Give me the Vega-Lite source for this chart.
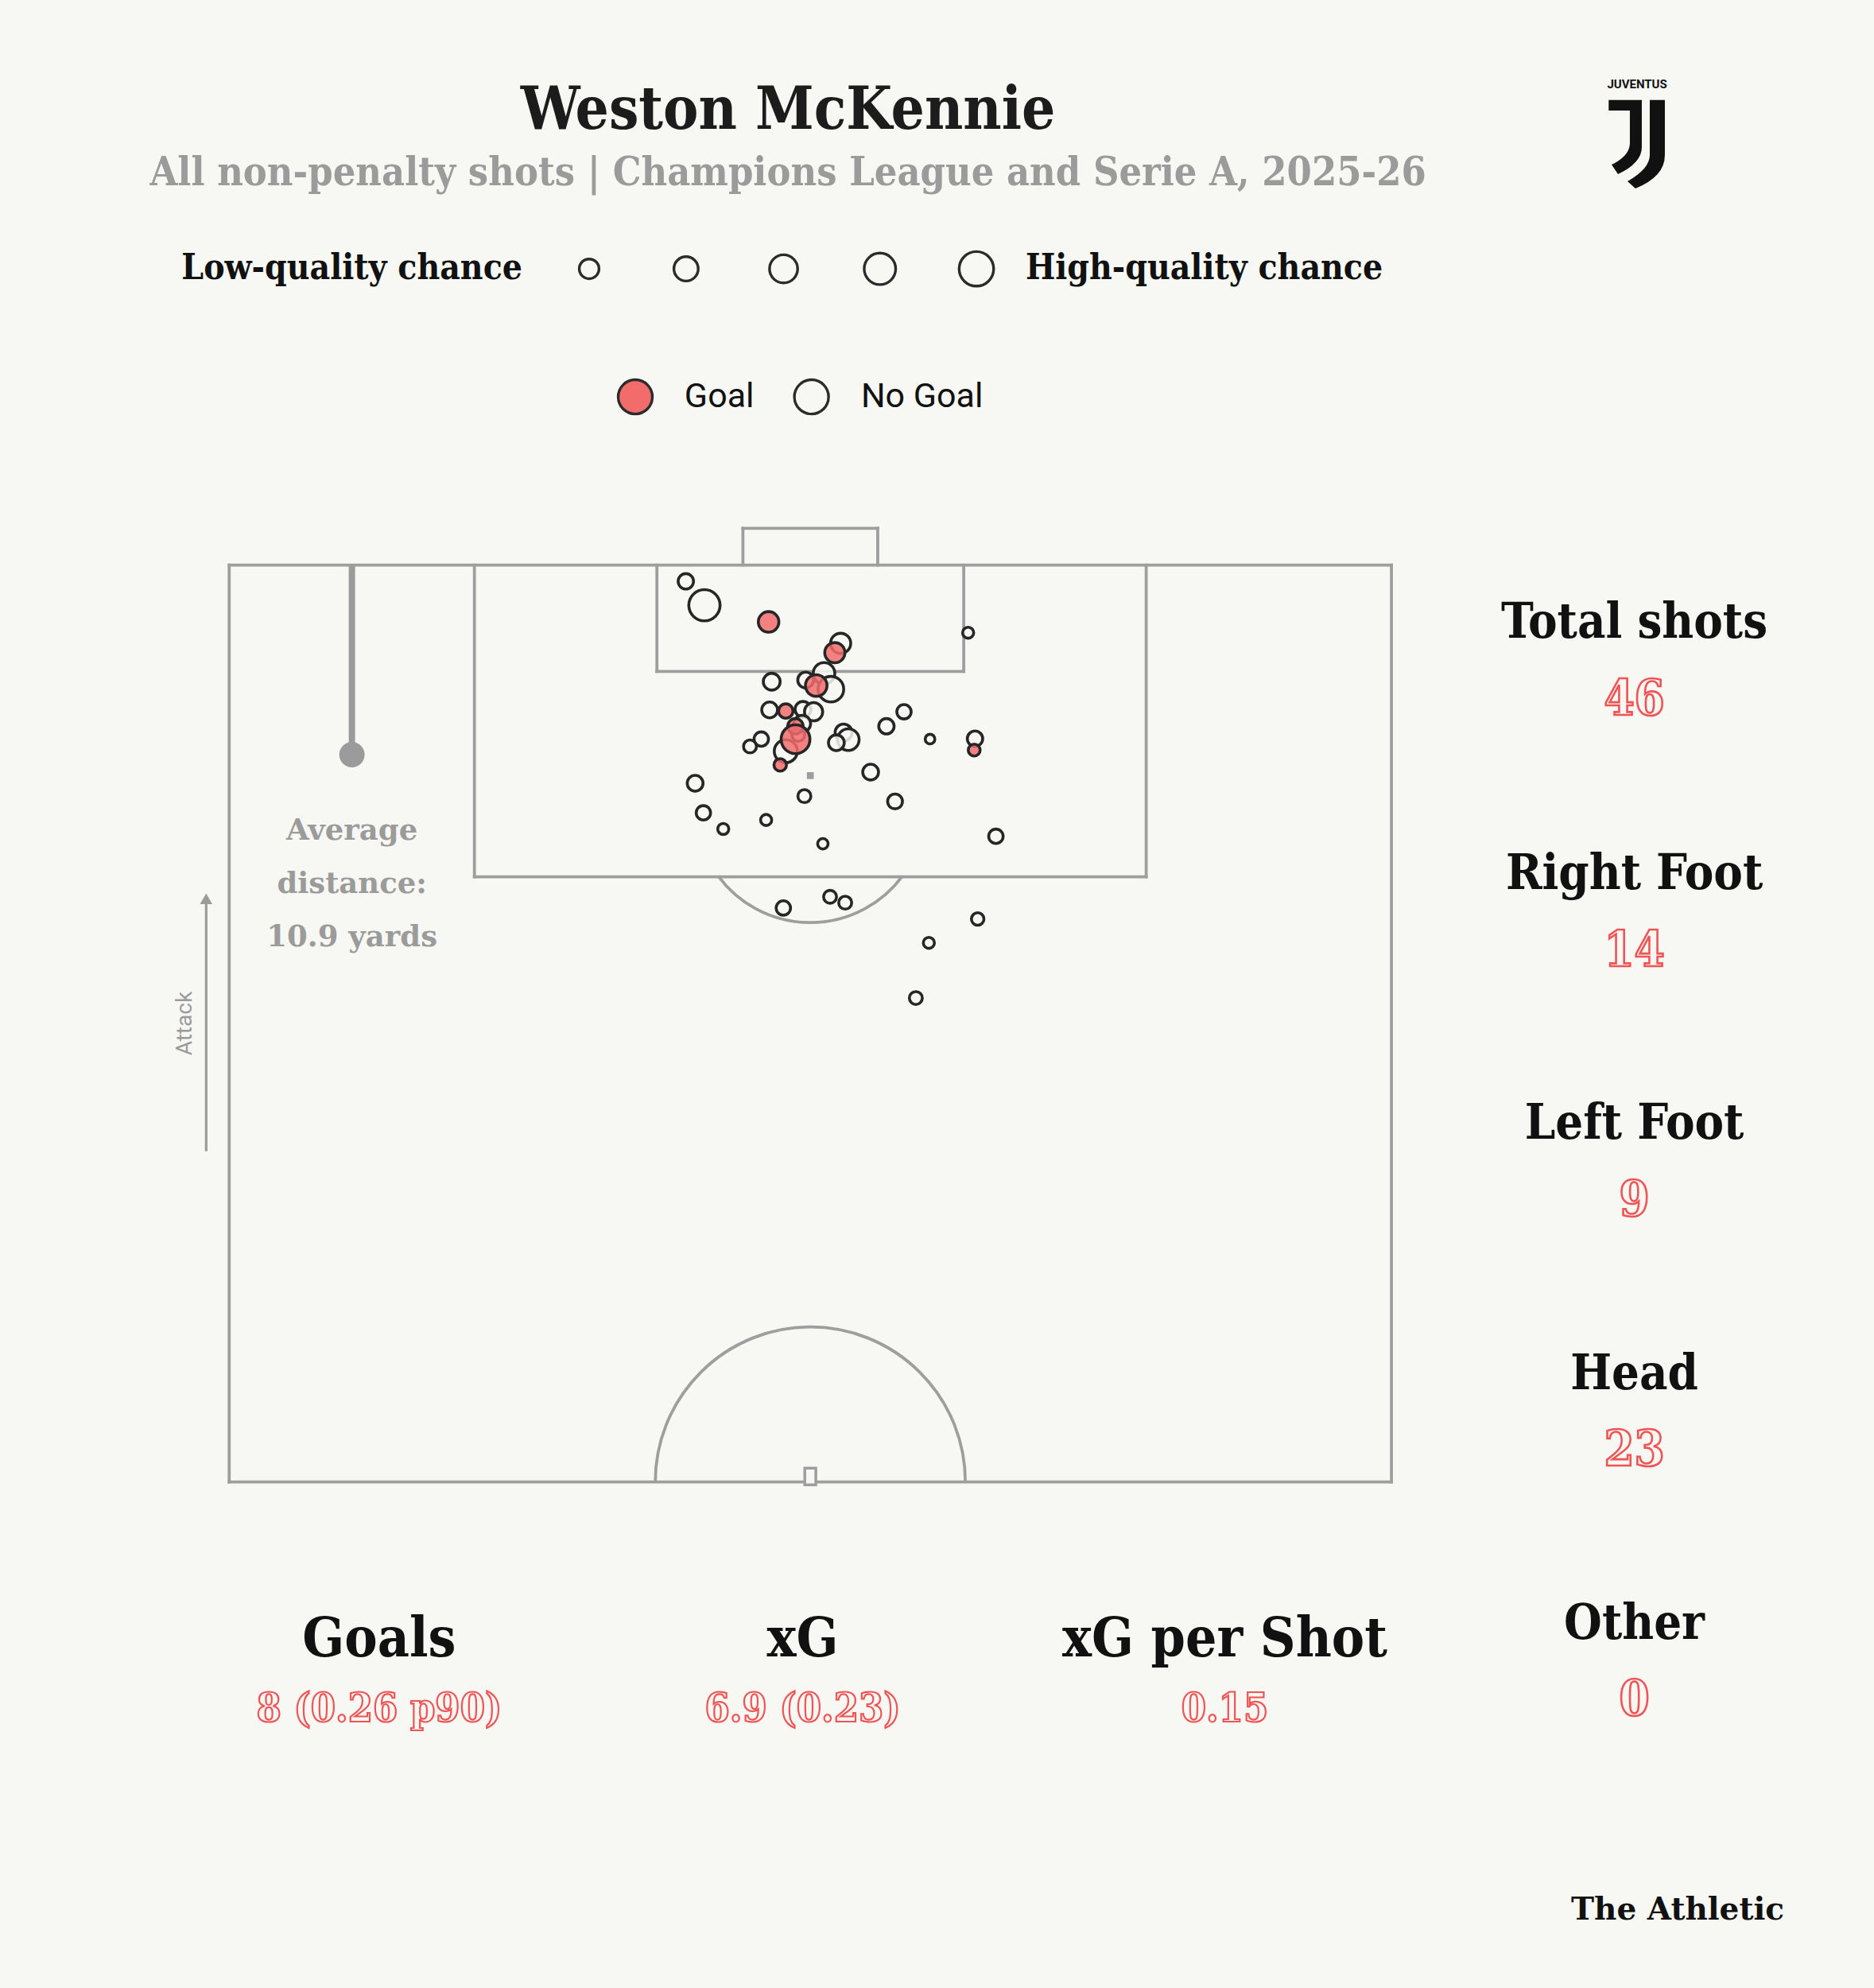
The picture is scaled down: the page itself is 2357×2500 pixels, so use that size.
{
  "$schema": "https://vega.github.io/schema/vega-lite/v6.json",
  "width": 2357,
  "height": 2500,
  "autosize": {"type": "fit", "contains": "padding"},
  "padding": 0,
  "background": "#f7f7f3",
  "config": {"view": {"stroke": null}},
  "datasets": {
    "lines": [
      {"x": 0, "y": 50, "x2": 0, "y2": 100},
      {"x": 100, "y": 50, "x2": 100, "y2": 100},
      {"x": 0, "y": 100, "x2": 100, "y2": 100},
      {"x": 0, "y": 50, "x2": 100, "y2": 50},
      {"x": 21.1, "y": 100, "x2": 21.1, "y2": 83},
      {"x": 78.9, "y": 100, "x2": 78.9, "y2": 83},
      {"x": 21.1, "y": 83, "x2": 78.9, "y2": 83},
      {"x": 36.8, "y": 100, "x2": 36.8, "y2": 94.2},
      {"x": 63.2, "y": 100, "x2": 63.2, "y2": 94.2},
      {"x": 36.8, "y": 94.2, "x2": 63.2, "y2": 94.2},
      {"x": 44.2, "y": 100, "x2": 44.2, "y2": 102},
      {"x": 55.8, "y": 100, "x2": 55.8, "y2": 102},
      {"x": 44.2, "y": 102, "x2": 55.8, "y2": 102}
    ],
    "shots": [
      {"x": 39.29, "y": 99.11, "xG": 0.127, "outcome": "No Goal"},
      {"x": 40.89, "y": 97.81, "xG": 0.523, "outcome": "No Goal"},
      {"x": 52.61, "y": 95.73, "xG": 0.218, "outcome": "No Goal"},
      {"x": 63.58, "y": 96.31, "xG": 0.066, "outcome": "No Goal"},
      {"x": 46.68, "y": 93.64, "xG": 0.152, "outcome": "No Goal"},
      {"x": 49.6, "y": 93.73, "xG": 0.134, "outcome": "No Goal"},
      {"x": 51.18, "y": 94.09, "xG": 0.25, "outcome": "No Goal"},
      {"x": 51.77, "y": 93.23, "xG": 0.352, "outcome": "No Goal"},
      {"x": 46.5, "y": 92.1, "xG": 0.134, "outcome": "No Goal"},
      {"x": 49.37, "y": 92.13, "xG": 0.134, "outcome": "No Goal"},
      {"x": 50.28, "y": 92.0, "xG": 0.179, "outcome": "No Goal"},
      {"x": 58.06, "y": 92.0, "xG": 0.111, "outcome": "No Goal"},
      {"x": 56.55, "y": 91.21, "xG": 0.127, "outcome": "No Goal"},
      {"x": 60.3, "y": 90.51, "xG": 0.05, "outcome": "No Goal"},
      {"x": 64.17, "y": 90.53, "xG": 0.127, "outcome": "No Goal"},
      {"x": 52.86, "y": 90.87, "xG": 0.152, "outcome": "No Goal"},
      {"x": 53.27, "y": 90.48, "xG": 0.25, "outcome": "No Goal"},
      {"x": 52.24, "y": 90.31, "xG": 0.134, "outcome": "No Goal"},
      {"x": 49.3, "y": 91.35, "xG": 0.152, "outcome": "No Goal"},
      {"x": 48.96, "y": 90.74, "xG": 0.09, "outcome": "No Goal"},
      {"x": 47.89, "y": 89.85, "xG": 0.284, "outcome": "No Goal"},
      {"x": 45.78, "y": 90.51, "xG": 0.111, "outcome": "No Goal"},
      {"x": 44.81, "y": 90.11, "xG": 0.09, "outcome": "No Goal"},
      {"x": 55.19, "y": 88.71, "xG": 0.134, "outcome": "No Goal"},
      {"x": 40.09, "y": 88.1, "xG": 0.134, "outcome": "No Goal"},
      {"x": 49.49, "y": 87.4, "xG": 0.09, "outcome": "No Goal"},
      {"x": 57.29, "y": 87.11, "xG": 0.118, "outcome": "No Goal"},
      {"x": 40.8, "y": 86.49, "xG": 0.111, "outcome": "No Goal"},
      {"x": 42.51, "y": 85.61, "xG": 0.066, "outcome": "No Goal"},
      {"x": 46.2, "y": 86.1, "xG": 0.066, "outcome": "No Goal"},
      {"x": 51.08, "y": 84.8, "xG": 0.059, "outcome": "No Goal"},
      {"x": 65.97, "y": 85.21, "xG": 0.111, "outcome": "No Goal"},
      {"x": 47.68, "y": 81.3, "xG": 0.111, "outcome": "No Goal"},
      {"x": 51.7, "y": 81.91, "xG": 0.09, "outcome": "No Goal"},
      {"x": 53.0, "y": 81.59, "xG": 0.09, "outcome": "No Goal"},
      {"x": 64.4, "y": 80.7, "xG": 0.084, "outcome": "No Goal"},
      {"x": 60.2, "y": 79.4, "xG": 0.066, "outcome": "No Goal"},
      {"x": 59.08, "y": 76.39, "xG": 0.09, "outcome": "No Goal"},
      {"x": 46.41, "y": 96.9, "xG": 0.227, "outcome": "Goal"},
      {"x": 52.11, "y": 95.22, "xG": 0.218, "outcome": "Goal"},
      {"x": 50.51, "y": 93.43, "xG": 0.25, "outcome": "Goal"},
      {"x": 47.89, "y": 92.04, "xG": 0.111, "outcome": "Goal"},
      {"x": 64.1, "y": 89.91, "xG": 0.076, "outcome": "Goal"},
      {"x": 48.72, "y": 91.21, "xG": 0.127, "outcome": "Goal"},
      {"x": 48.73, "y": 90.5, "xG": 0.444, "outcome": "Goal"},
      {"x": 47.41, "y": 89.1, "xG": 0.084, "outcome": "Goal"}
    ]
  },
  "encoding": {
    "x": {"field": "x", "type": "quantitative", "scale": {"domain": [-19.72, 141.52], "nice": false, "zero": false}, "axis": null},
    "y": {"field": "y", "type": "quantitative", "scale": {"domain": [22.41, 130.81], "nice": false, "zero": false}, "axis": null}
  },
  "resolve": {"scale": {"size": "independent"}},
  "layer": [
    {
      "data": {"name": "lines"},
      "mark": {"type": "rule", "stroke": "#9e9e9e", "strokeWidth": 3.8, "strokeCap": "square"},
      "encoding": {"x2": {"field": "x2"}, "y2": {"field": "y2"}}
    },
    {
      "data": {"values": [{"x": 50, "y": 50}]},
      "mark": {"type": "arc", "filled": false, "stroke": "#9e9e9e", "strokeWidth": 3.8, "radius": 195, "radius2": 195, "theta": -1.5708, "theta2": 1.5708}
    },
    {
      "data": {"values": [{"x": 50, "y": 86.75}]},
      "mark": {"type": "arc", "filled": false, "stroke": "#9e9e9e", "strokeWidth": 3.8, "radius": 144, "radius2": 144, "theta": 2.2057, "theta2": 4.0775}
    },
    {
      "data": {"values": [{"x": 50, "y": 88.52}]},
      "mark": {"type": "point", "shape": "square", "filled": true, "fill": "#9e9e9e", "size": 75, "strokeWidth": 0, "opacity": 1}
    },
    {
      "data": {"values": [{"x": 50, "y": 50.3}]},
      "mark": {"type": "point", "shape": "M-0.66,-1H0.66V1H-0.66Z", "filled": false, "fill": "#f7f7f3", "stroke": "#9e9e9e", "strokeWidth": 3.5, "size": 441, "opacity": 1}
    },
    {
      "data": {"values": [{"x": 10.56, "y": 100, "x2": 10.56, "y2": 89.66}]},
      "mark": {"type": "rule", "stroke": "#9b9b9b", "strokeWidth": 8},
      "encoding": {"x2": {"field": "x2"}, "y2": {"field": "y2"}}
    },
    {
      "data": {"values": [{"x": 10.56, "y": 89.66}]},
      "mark": {"type": "point", "shape": "circle", "filled": true, "fill": "#9b9b9b", "size": 1018, "strokeWidth": 0, "opacity": 1}
    },
    {
      "data": {"values": [{"x": -1.98, "y": 68.04, "x2": -1.98, "y2": 81.6}]},
      "mark": {"type": "rule", "stroke": "#9b9b9b", "strokeWidth": 3.2},
      "encoding": {"x2": {"field": "x2"}, "y2": {"field": "y2"}}
    },
    {
      "data": {"values": [{"x": -1.98, "y": 81.8}]},
      "mark": {"type": "point", "shape": "triangle-up", "filled": true, "fill": "#9b9b9b", "size": 240, "strokeWidth": 0, "opacity": 1}
    },
    {
      "data": {"values": [{"x": -3.76, "y": 75.0, "text": "Attack"}]},
      "mark": {"type": "text", "angle": 270, "font": "Roboto", "fontSize": 28, "color": "#9b9b9b", "align": "center", "baseline": "middle"},
      "encoding": {"text": {"field": "text"}}
    },
    {
      "data": {"values": [{"x": 10.56, "y": 85.52, "text": "Average\ndistance:\n10.9 yards"}]},
      "mark": {"type": "text", "lineBreak": "\n", "lineHeight": 67, "font": "DejaVu Serif", "fontWeight": "bold", "fontSize": 37, "color": "#9b9b9b", "align": "center", "baseline": "middle"},
      "encoding": {"text": {"field": "text"}}
    },
    {
      "data": {"name": "shots"},
      "mark": {"type": "point", "shape": "circle", "filled": true, "stroke": "#262626", "strokeWidth": 3.6, "fillOpacity": 0.85, "opacity": 1},
      "encoding": {
        "size": {"field": "xG", "type": "quantitative", "scale": {"domain": [0, 1], "range": [0, 2950], "zero": true}, "legend": null},
        "fill": {"field": "outcome", "type": "nominal", "scale": {"domain": ["Goal", "No Goal"], "range": ["#f36c6c", "#f7f7f3"]}, "legend": null}
      }
    },
    {
      "data": {"values": [
        {"x": 30.97, "y": 116.15, "level": 1},
        {"x": 39.31, "y": 116.15, "level": 2},
        {"x": 47.7, "y": 116.15, "level": 3},
        {"x": 55.99, "y": 116.15, "level": 4},
        {"x": 64.29, "y": 116.15, "level": 5}
      ]},
      "mark": {"type": "point", "shape": "circle", "filled": false, "stroke": "#2b2b2b", "strokeWidth": 3.4, "opacity": 1},
      "encoding": {
        "size": {"field": "level", "type": "quantitative", "scale": {"domain": [1, 5], "range": [616, 1886], "zero": false}, "legend": null}
      }
    },
    {
      "data": {"values": [
        {"x": 34.94, "y": 109.17, "outcome": "Goal"},
        {"x": 50.1, "y": 109.17, "outcome": "No Goal"}
      ]},
      "mark": {"type": "point", "shape": "circle", "filled": true, "stroke": "#2b2b2b", "strokeWidth": 3.4, "size": 1850, "opacity": 1, "fillOpacity": 1},
      "encoding": {
        "fill": {"field": "outcome", "type": "nominal", "scale": {"domain": ["Goal", "No Goal"], "range": ["#f36c6c", "#f7f7f3"]}, "legend": null}
      }
    },
    {
      "data": {"values": [{"x": 39.17, "y": 109.17, "text": "Goal"}, {"x": 54.36, "y": 109.17, "text": "No Goal"}]},
      "mark": {"type": "text", "font": "Roboto", "fontSize": 43, "color": "#111111", "align": "left", "baseline": "middle"},
      "encoding": {"text": {"field": "text"}}
    },
    {
      "data": {"values": [{"x": 48.08, "y": 124.72, "text": "Weston McKennie"}]},
      "mark": {"type": "text", "font": "DejaVu Serif Condensed, DejaVu Serif", "fontWeight": "bold", "fontSize": 74, "color": "#1c1c1c", "align": "center", "baseline": "middle"},
      "encoding": {"text": {"field": "text"}}
    },
    {
      "data": {"values": [{"x": 48.08, "y": 121.35, "text": "All non-penalty shots | Champions League and Serie A, 2025-26"}]},
      "mark": {"type": "text", "font": "DejaVu Serif Condensed, DejaVu Serif", "fontWeight": "bold", "fontSize": 50, "color": "#9b9b9b", "align": "center", "baseline": "middle"},
      "encoding": {"text": {"field": "text"}}
    },
    {
      "data": {"values": [{"x": 25.22, "y": 116.15, "text": "Low-quality chance"}]},
      "mark": {"type": "text", "font": "DejaVu Serif Condensed, DejaVu Serif", "fontWeight": "bold", "fontSize": 44, "color": "#111111", "align": "right", "baseline": "middle"},
      "encoding": {"text": {"field": "text"}}
    },
    {
      "data": {"values": [{"x": 68.52, "y": 116.15, "text": "High-quality chance"}]},
      "mark": {"type": "text", "font": "DejaVu Serif Condensed, DejaVu Serif", "fontWeight": "bold", "fontSize": 44, "color": "#111111", "align": "left", "baseline": "middle"},
      "encoding": {"text": {"field": "text"}}
    },
    {
      "data": {"values": [
        {"x": 120.9, "y": 96.8, "text": "Total shots"},
        {"x": 120.9, "y": 83.1, "text": "Right Foot"},
        {"x": 120.9, "y": 69.48, "text": "Left Foot"},
        {"x": 120.9, "y": 55.86, "text": "Head"},
        {"x": 120.9, "y": 42.24, "text": "Other"}
      ]},
      "mark": {"type": "text", "font": "DejaVu Serif Condensed, DejaVu Serif", "fontWeight": "bold", "fontSize": 61, "color": "#111111", "align": "center", "baseline": "middle"},
      "encoding": {"text": {"field": "text"}}
    },
    {
      "data": {"values": [
        {"x": 120.9, "y": 92.62, "text": "46"},
        {"x": 120.9, "y": 78.92, "text": "14"},
        {"x": 120.9, "y": 65.31, "text": "9"},
        {"x": 120.9, "y": 51.68, "text": "23"},
        {"x": 120.9, "y": 38.06, "text": "0"}
      ]},
      "mark": {"type": "text", "font": "DejaVu Serif Condensed, DejaVu Serif", "fontWeight": "bold", "fontSize": 61, "fill": "#f7f7f3", "stroke": "#f05454", "strokeWidth": 2.6, "align": "center", "baseline": "middle"},
      "encoding": {"text": {"field": "text"}}
    },
    {
      "data": {"values": [
        {"x": 12.9, "y": 41.4, "text": "Goals"},
        {"x": 49.34, "y": 41.4, "text": "xG"},
        {"x": 85.66, "y": 41.4, "text": "xG per Shot"}
      ]},
      "mark": {"type": "text", "font": "DejaVu Serif Condensed, DejaVu Serif", "fontWeight": "bold", "fontSize": 69, "color": "#111111", "align": "center", "baseline": "middle"},
      "encoding": {"text": {"field": "text"}}
    },
    {
      "data": {"values": [
        {"x": 12.9, "y": 37.6, "text": "8 (0.26 p90)"},
        {"x": 49.34, "y": 37.6, "text": "6.9 (0.23)"},
        {"x": 85.66, "y": 37.6, "text": "0.15"}
      ]},
      "mark": {"type": "text", "font": "DejaVu Serif Condensed, DejaVu Serif", "fontWeight": "bold", "fontSize": 50, "fill": "#f7f7f3", "stroke": "#f05454", "strokeWidth": 2.2, "align": "center", "baseline": "middle"},
      "encoding": {"text": {"field": "text"}}
    },
    {
      "data": {"values": [{"x": 133.79, "y": 26.67, "text": "The Athletic"}]},
      "mark": {"type": "text", "font": "DejaVu Serif", "fontWeight": "bold", "fontSize": 39, "color": "#111111", "align": "right", "baseline": "middle"},
      "encoding": {"text": {"field": "text"}}
    },
    {
      "data": {"values": [{"x": 121.14, "y": 126.21, "text": "JUVENTUS"}]},
      "mark": {"type": "text", "font": "Roboto", "fontWeight": "bold", "fontSize": 15, "color": "#111111", "align": "center", "baseline": "middle"},
      "encoding": {"text": {"field": "text"}}
    },
    {
      "data": {"values": [{"x": 121.2, "y": 122.95}]},
      "mark": {"type": "point", "shape": "M-0.655,-0.991L0.089,-0.991L0.089,0.068Q0.089,0.425,-0.446,0.675L-0.589,0.461Q-0.179,0.264,-0.179,-0.021L-0.179,-0.754L-0.655,-0.754ZM0.268,-0.991L0.607,-0.991L0.607,0.246Q0.607,0.729,-0.054,0.996L-0.232,0.836Q0.268,0.55,0.268,0.246Z", "filled": true, "fill": "#111111", "strokeWidth": 0, "size": 12544, "opacity": 1}
    }
  ]
}
